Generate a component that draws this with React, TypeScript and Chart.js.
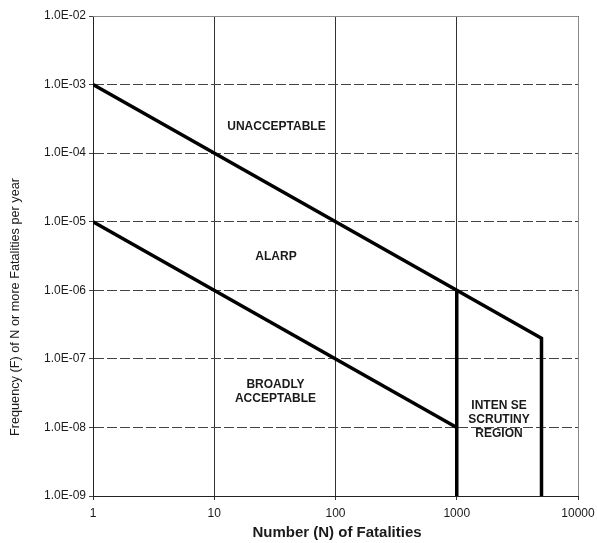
import React, { useEffect, useRef } from "react";
import { Chart, registerables } from "chart.js";
Chart.register(...registerables);

// Tick values
const xTickValues = [1, 10, 100, 1000, 10000];
const yTickValues = [1e-9, 1e-8, 1e-7, 1e-6, 1e-5, 1e-4, 1e-3, 1e-2];

// Upper boundary (unacceptable / ALARP), ending at N=5000
const upperN = [1, 1000, 5000, 5000];
const upperF = [1e-3, 1e-6, 2e-7, 1e-9];
// Lower boundary (ALARP / broadly acceptable)
const lowerN = [1, 1000];
const lowerF = [1e-5, 1e-8];
// Intense scrutiny boundary at N=1000
const scrutinyN = [1000, 1000];
const scrutinyF = [1e-6, 1e-9];

// Region labels (placed in data coordinates)
const regionLabels = [
  { lines: ["UNACCEPTABLE"], n: 32.6, f: 2.4e-4 },
  { lines: ["ALARP"], n: 32.3, f: 3.05e-6 },
  { lines: ["BROADLY", "ACCEPTABLE"], n: 32, f: 3.34e-8 },
  { lines: ["INTEN SE", "SCRUTINY", "REGION"], n: 2230, f: 1.28e-8 },
];

const xTitle = "Number (N) of Fatalities";
const yTitle = "Frequency (F) of N or more Fatalities per year";

const FONT = "'Liberation Sans', Arial, sans-serif";
const TEXT = "#1a1a1a";

function fmtSci(v: number): string {
  const e = Math.round(Math.log10(v));
  const sign = e < 0 ? "-" : "+";
  const a = Math.abs(e);
  return "1.0E" + sign + (a < 10 ? "0" + a : String(a));
}

const pts = (xs: number[], ys: number[]) => xs.map((x, i) => ({ x, y: ys[i] }));

export default function App() {
  const ref = useRef<HTMLCanvasElement | null>(null);
  useEffect(() => {
    if (!ref.current) return;
    const overlay = {
      id: "overlay",
      afterDraw(chart: any) {
        const { ctx, chartArea, scales } = chart;
        ctx.save();
        // top and right frame
        ctx.strokeStyle = "#8a8a8a";
        ctx.lineWidth = 1;
        ctx.setLineDash([]);
        ctx.beginPath();
        ctx.moveTo(chartArea.left, chartArea.top + 0.5);
        ctx.lineTo(chartArea.right + 0.5, chartArea.top + 0.5);
        ctx.lineTo(chartArea.right + 0.5, chartArea.bottom);
        ctx.stroke();
        // region labels
        ctx.fillStyle = TEXT;
        ctx.font = `bold 12px ${FONT}`;
        ctx.textAlign = "center";
        ctx.textBaseline = "middle";
        const lh = 14;
        regionLabels.forEach((r) => {
          const cx = scales.x.getPixelForValue(r.n);
          const cy = scales.y.getPixelForValue(r.f);
          const h0 = cy - ((r.lines.length - 1) * lh) / 2;
          r.lines.forEach((t, i) => ctx.fillText(t, cx, h0 + i * lh));
        });
        // axis titles
        ctx.font = `bold 15px ${FONT}`;
        ctx.fillText(xTitle, 337, 533);
        ctx.translate(15, 307);
        ctx.rotate(-Math.PI / 2);
        ctx.font = `12.7px ${FONT}`;
        ctx.fillText(yTitle, 0, 0);
        ctx.restore();
      },
    };
    const chart = new Chart(ref.current, {
      type: "scatter",
      data: {
        datasets: [
          { data: pts(upperN, upperF) },
          { data: pts(lowerN, lowerF) },
          { data: pts(scrutinyN, scrutinyF) },
        ].map((d) => ({
          ...d,
          showLine: true,
          borderColor: "#000",
          backgroundColor: "#000",
          borderWidth: 3.5,
          pointRadius: 0,
          tension: 0,
          borderJoinStyle: "miter" as const,
        })),
      },
      options: {
        animation: false,
        responsive: false,
        devicePixelRatio: 1,
        layout: { padding: { left: 0, top: 16, right: 19, bottom: 0 } },
        plugins: { legend: { display: false }, tooltip: { enabled: false } },
        scales: {
          x: {
            type: "logarithmic",
            min: 1,
            max: 10000,
            afterFit: (s: any) => {
              s.height = 47;
              s.paddingLeft = 0;
              s.paddingRight = 0;
            },
            afterBuildTicks: (s: any) => {
              s.ticks = xTickValues.map((v) => ({ value: v }));
            },
            ticks: {
              callback: (v: any) => String(v),
              font: { family: FONT, size: 12 },
              color: TEXT,
              padding: 6,
              maxRotation: 0,
              autoSkip: false,
            },
            grid: { color: "#333", lineWidth: 1, tickLength: 4, drawTicks: true },
            border: { color: "#222", width: 1 },
          },
          y: {
            type: "logarithmic",
            min: 1e-9,
            max: 1e-2,
            afterFit: (s: any) => {
              s.width = 93;
              s.paddingTop = 0;
              s.paddingBottom = 0;
            },
            afterBuildTicks: (s: any) => {
              s.ticks = yTickValues.map((v) => ({ value: v }));
            },
            ticks: {
              callback: (v: any) => fmtSci(Number(v)),
              font: { family: FONT, size: 12 },
              color: TEXT,
              padding: 3,
              autoSkip: false,
            },
            grid: { color: "#444", lineWidth: 1, tickLength: 4, drawTicks: true },
            border: { color: "#222", width: 1, dash: [10, 3] },
          },
        },
      },
      plugins: [overlay],
    });
    return () => chart.destroy();
  }, []);
  return (
    <div style={{ position: "fixed", left: 0, top: 0, width: 597, height: 543, background: "#fff" }}>
      <canvas ref={ref} width={597} height={543} style={{ width: 597, height: 543 }} />
    </div>
  );
}
